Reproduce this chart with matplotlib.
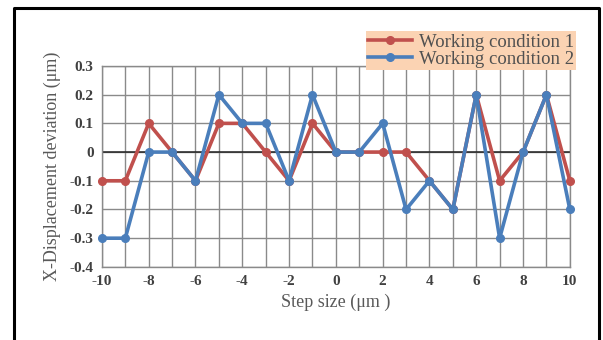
import matplotlib.pyplot as plt
from matplotlib.lines import Line2D

# step positions and measured deviations
steps = list(range(-10, 11))
cond1 = [-0.1, -0.1, 0.1, 0.0, -0.1, 0.1, 0.1, 0.0, -0.1, 0.1, 0.0,
         0.0, 0.0, 0.0, -0.1, -0.2, 0.2, -0.1, 0.0, 0.2, -0.1]
cond2 = [-0.3, -0.3, 0.0, 0.0, -0.1, 0.2, 0.1, 0.1, -0.1, 0.2, 0.0,
         0.0, 0.1, -0.2, -0.1, -0.2, 0.2, -0.3, 0.0, 0.2, -0.2]
labels = ['Working condition 1', 'Working condition 2']
colors = ['#c0504d', '#4a7ebb']
yticks = [-0.4, -0.3, -0.2, -0.1, 0, 0.1, 0.2, 0.3]
ytick_labels = ['-0.4', '-0.3', '-0.2', '-0.1', '0', '0.1', '0.2', '0.3']
xticks = list(range(-10, 11, 2))

plt.rcParams['font.family'] = ['Liberation Serif', 'DejaVu Serif']
plt.rcParams['axes.unicode_minus'] = False

fig = plt.figure(figsize=(6.03, 3.40), dpi=100)
ax = fig.add_axes([0.169, 0.215, 0.776, 0.591])

# outer frame (left, top, right only)
fig.add_artist(Line2D([0.024, 0.024, 0.994, 0.994], [0.0, 0.977, 0.977, 0.0],
                      transform=fig.transFigure, color='black', lw=2.2))

ax.plot(steps, cond1, color=colors[0], lw=2.6, marker='o', ms=5.5,
        label=labels[0], zorder=3, clip_on=False)
ax.plot(steps, cond2, color=colors[1], lw=2.6, marker='o', ms=5.5,
        label=labels[1], zorder=4, clip_on=False)

ax.set_xlim(-10, 10)
ax.set_ylim(-0.4, 0.3)
ax.set_xticks(xticks)
ax.set_xticks(range(-10, 11), minor=True)
ax.set_yticks(yticks)
ax.set_yticklabels(ytick_labels)
ax.grid(True, which='both', color='#8a8a8a', lw=1.0)
ax.axhline(0, color='#222222', lw=1.1, zorder=2)
ax.tick_params(which='both', length=0)
ax.tick_params(axis='both', labelsize=11, labelcolor='#404040', pad=6)
for t in ax.get_xticklabels() + ax.get_yticklabels():
    t.set_fontweight('bold')
for s in ax.spines.values():
    s.set_color('#8a8a8a')
    s.set_linewidth(1.0)

ax.set_xlabel('Step size (μm )', fontsize=13, color='#595959', labelpad=4)
ax.set_ylabel('X-Displacement deviation (μm)', fontsize=13, color='#595959',
              labelpad=6)

leg = fig.legend(loc='upper right', bbox_to_anchor=(0.956, 0.908),
                 fontsize=13.5, frameon=True, fancybox=False,
                 handlelength=2.3, handletextpad=0.4, borderpad=0.12,
                 labelspacing=0.0, borderaxespad=0)
leg.get_frame().set_facecolor('#fbd3b3')
leg.get_frame().set_edgecolor('none')
leg.get_frame().set_alpha(1)
for t in leg.get_texts():
    t.set_color('#505050')

fig.savefig('out.png', dpi=100)
